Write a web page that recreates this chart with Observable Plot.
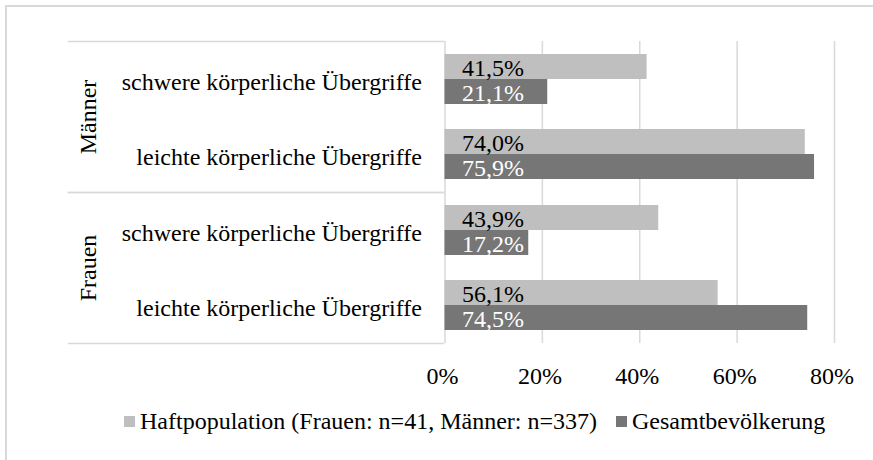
<!DOCTYPE html>
<html>
<head>
<meta charset="utf-8">
<script src="https://cdn.jsdelivr.net/npm/d3@7"></script>
<script src="https://cdn.jsdelivr.net/npm/@observablehq/plot@0.6"></script>
<style>
  html, body { margin: 0; padding: 0; background: #fff; }
  #wrap { position: relative; width: 873px; height: 460px; overflow: hidden; font-family: "Liberation Serif", "Times New Roman", serif; }
  #border { position: absolute; left: 5px; top: 5px; width: 900px; height: 500px; border-top: 2px solid #d9d9d9; border-left: 2px solid #d9d9d9; box-sizing: border-box; }
  #chart { position: absolute; left: 0; top: 0; }
  #legend { position: absolute; left: 124px; top: 409px; display: flex; align-items: center; font-size: 24px; line-height: 24px; color: #000; white-space: nowrap; }
  .item { display: flex; align-items: center; }
  .sw { width: 11px; height: 11px; margin-right: 5px; }
</style>
</head>
<body>
<div id="wrap">
  <div id="border"></div>
  <div id="chart"></div>
  <div id="legend"></div>
</div>
<script>
// ---- data ----
const groups = ["Männer", "Frauen"];
const categories = ["schwere körperliche Übergriffe", "leichte körperliche Übergriffe"];
const seriesNames = ["Haftpopulation (Frauen: n=41, Männer: n=337)", "Gesamtbevölkerung"];
const seriesColors = ["#bfbfbf", "#767676"];
const maennerHaft = [41.5, 74.0];
const maennerGesamt = [21.1, 75.9];
const frauenHaft = [43.9, 56.1];
const frauenGesamt = [17.2, 74.5];
const xTicks = [0, 20, 40, 60, 80];

const values = {
  "Männer": [maennerHaft, maennerGesamt],
  "Frauen": [frauenHaft, frauenGesamt]
};
const rows = [];
for (const g of groups) {
  categories.forEach((c, ci) => {
    seriesNames.forEach((s, si) => {
      rows.push({group: g, category: c, series: s, si, value: values[g][si][ci]});
    });
  });
}
const haftRows = rows.filter(d => d.si === 0);
const gesamtRows = rows.filter(d => d.si === 1);
const fmt = v => v.toFixed(1).replace(".", ",") + "%";

const W = 873, H = 395;
const FONT = "24px";

function build(bw) {
  return Plot.plot({
    width: W,
    height: H,
    marginTop: 40,
    marginBottom: 52,
    marginLeft: 444.5,
    marginRight: 39,
    style: {fontFamily: '"Liberation Serif", "Times New Roman", serif', fontSize: FONT, color: "#000", background: "transparent", overflow: "visible"},
    x: {domain: [0, 80], label: null, axis: null},
    y: {domain: categories, paddingInner: 1/3, paddingOuter: 1/6, label: null, axis: null},
    fy: {domain: groups, padding: 0, label: null, axis: null},
    marks: [
      Plot.gridX(xTicks, {stroke: "#d9d9d9", strokeOpacity: 1, strokeWidth: 1.5}),
      Plot.frame({anchor: "top", stroke: "#d9d9d9", strokeOpacity: 1, strokeWidth: 1.5, insetLeft: -(444.5 - 68), insetRight: (W - 39) - 443}),
      Plot.frame({anchor: "bottom", stroke: "#d9d9d9", strokeOpacity: 1, strokeWidth: 1.5, insetLeft: -(444.5 - 68), insetRight: (W - 39) - 443}),
      Plot.barX(haftRows, {x: "value", y: "category", fy: "group", fill: seriesColors[0], insetBottom: bw / 2}),
      Plot.barX(gesamtRows, {x: "value", y: "category", fy: "group", fill: seriesColors[1], insetTop: bw / 2}),
      Plot.text(haftRows, {x: () => 0, y: "category", fy: "group", text: d => fmt(d.value), textAnchor: "start", dx: 17, dy: -bw / 4 + 1, fill: "#000", fontSize: FONT}),
      Plot.text(gesamtRows, {x: () => 0, y: "category", fy: "group", text: d => fmt(d.value), textAnchor: "start", dx: 17, dy: bw / 4 + 1, fill: "#fff", fontSize: FONT}),
      Plot.axisY({anchor: "left", tickSize: 0, tickPadding: 23, dy: 2.5, fontSize: FONT, fill: "#000"}),
      Plot.axisX(xTicks, {anchor: "bottom", tickSize: 0, tickPadding: 23, dx: -2.5, tickFormat: d => d + "%", fontSize: FONT, fill: "#000"}),
      Plot.text(groups, {fy: d => d, text: d => d, frameAnchor: "left", textAnchor: "middle", lineAnchor: "middle", rotate: -90, dx: -357, fontSize: FONT, fill: "#000"})
    ]
  });
}

const probe = build(0);
const bw = probe.scale("y").bandwidth;
const chart = build(bw);
document.getElementById("chart").appendChild(chart);

// legend
const legend = document.getElementById("legend");
seriesNames.forEach((s, i) => {
  const item = document.createElement("div");
  item.className = "item";
  if (i > 0) item.style.marginLeft = "19px";
  const sw = document.createElement("div");
  sw.className = "sw";
  sw.style.background = seriesColors[i];
  const t = document.createElement("span");
  t.textContent = s;
  item.appendChild(sw);
  item.appendChild(t);
  legend.appendChild(item);
});
</script>
</body>
</html>
